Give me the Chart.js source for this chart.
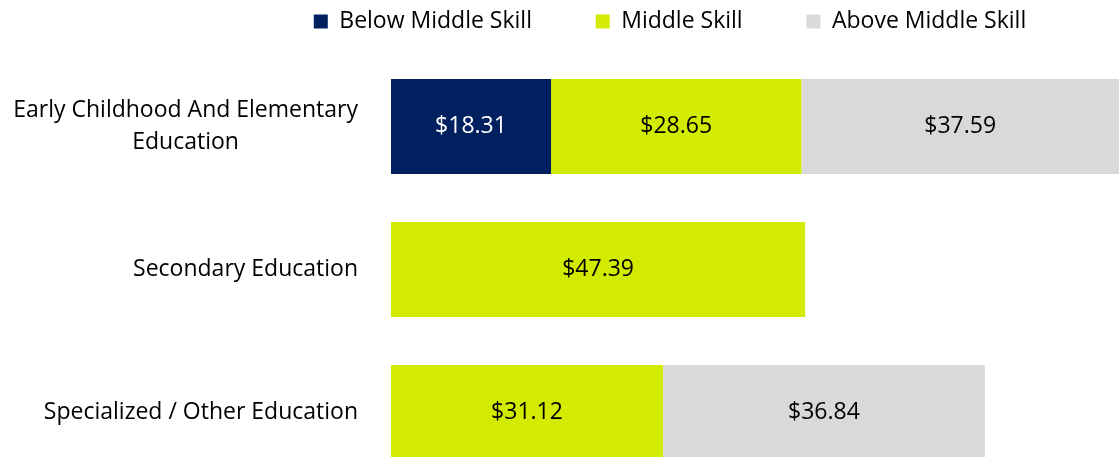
<!DOCTYPE html>
<html>
<head>
<meta charset="utf-8">
<script src="https://cdn.jsdelivr.net/npm/chart.js@4"></script>
<style>
  html, body { margin: 0; padding: 0; background: #fff; overflow: hidden; }
  #wrap { width: 1119px; height: 490px; }
</style>
</head>
<body>
<div id="wrap"><canvas id="skillChart"></canvas></div>
<script>
const categories = [
  ['Early Childhood And Elementary', 'Education'],
  'Secondary Education',
  'Specialized / Other Education'
];
const seriesNames = ['Below Middle Skill', 'Middle Skill', 'Above Middle Skill'];
const belowMiddle = [18.31, null, null];
const middle = [28.65, 47.39, 31.12];
const aboveMiddle = [37.59, null, 36.84];

const FONT = '"Open Sans"';

// adds a bit of room under the legend
const legendGap = {
  id: 'legendGap',
  beforeInit(chart) {
    const fit = chart.legend.fit;
    chart.legend.fit = function () {
      fit.bind(chart.legend)();
      this.height += 12;
    };
  }
};

// category labels, right aligned block, each line centred on the widest one
const catLabels = {
  id: 'catLabels',
  afterDraw(chart) {
    const ctx = chart.ctx;
    const y = chart.scales.y;
    const right = 358;
    ctx.save();
    ctx.font = '23px ' + FONT;
    ctx.fillStyle = '#000';
    ctx.textBaseline = 'middle';
    ctx.textAlign = 'center';
    categories.forEach((c, i) => {
      const lines = Array.isArray(c) ? c : [c];
      const w = Math.max(...lines.map(l => ctx.measureText(l).width));
      const cx = right - w / 2;
      const cy = y.getPixelForValue(i);
      const lh = 32;
      lines.forEach((l, j) => {
        ctx.fillText(l, cx, cy + (j - (lines.length - 1) / 2) * lh);
      });
    });
    ctx.restore();
  }
};

// value labels in the middle of each segment
const valueLabels = {
  id: 'valueLabels',
  afterDatasetsDraw(chart) {
    const ctx = chart.ctx;
    const area = chart.chartArea;
    ctx.save();
    ctx.font = '23px ' + FONT;
    ctx.textAlign = 'center';
    ctx.textBaseline = 'middle';
    chart.data.datasets.forEach((ds, di) => {
      chart.getDatasetMeta(di).data.forEach((bar, i) => {
        const v = ds.data[i];
        if (v == null) return;
        const x0 = Math.max(bar.base, area.left);
        const x1 = Math.min(bar.x, area.right);
        ctx.fillStyle = di === 0 ? '#fff' : '#000';
        ctx.fillText('$' + v.toFixed(2), (x0 + x1) / 2, bar.y);
      });
    });
    ctx.restore();
  }
};

new Chart(document.getElementById('skillChart'), {
  type: 'bar',
  data: {
    labels: categories,
    datasets: [
      { label: seriesNames[0], data: belowMiddle, backgroundColor: '#002060' },
      { label: seriesNames[1], data: middle, backgroundColor: '#D2EB00' },
      { label: seriesNames[2], data: aboveMiddle, backgroundColor: '#D9D9D9' }
    ]
  },
  options: {
    indexAxis: 'y',
    responsive: true,
    maintainAspectRatio: false,
    animation: false,
    events: [],
    barPercentage: 0.664,
    categoryPercentage: 1,
    layout: { padding: { left: 221, right: 0, top: 0, bottom: 6 } },
    scales: {
      x: { stacked: true, min: 0, max: 83.3, display: false },
      y: {
        stacked: true,
        ticks: { display: false },
        grid: { display: false },
        border: { display: false },
        afterFit(scale) { scale.width = 170; }
      }
    },
    plugins: {
      tooltip: { enabled: false },
      legend: {
        position: 'top',
        labels: {
          boxWidth: 14,
          boxHeight: 14,
          padding: 10,
          color: '#000',
          font: { family: FONT, size: 23 },
          generateLabels(chart) {
            const items = Chart.defaults.plugins.legend.labels.generateLabels(chart);
            items.forEach((it, i) => {
              if (i < items.length - 1) it.text += '         ';
            });
            return items;
          }
        }
      }
    }
  },
  plugins: [legendGap, catLabels, valueLabels]
});
</script>
</body>
</html>
